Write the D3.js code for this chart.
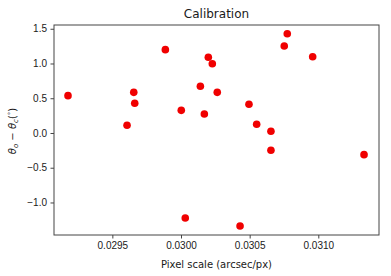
<!DOCTYPE html>
<html>
<head>
<meta charset="utf-8">
<script src="https://cdn.jsdelivr.net/npm/d3@7"></script>
<style>
  body { margin: 0; background: #fff; }
  svg { font-family: "DejaVu Sans", sans-serif; }
  .axis text { font-size: 10px; fill: #1a1a1a; }
  .axis path, .axis line { stroke: #444; }
</style>
</head>
<body>
<div id="chart-area"></div>
<script>
// pixel scale (arcsec/px) and calibration offset (deg)
let pixelScale = [0.029177, 0.029607, 0.029656, 0.029663, 0.029886, 0.030002, 0.030141,
	0.030170, 0.030199, 0.030228, 0.030264, 0.030495, 0.030551, 0.030655, 0.030752,
	0.030774, 0.030959, 0.030655, 0.031333, 0.030031, 0.030430];
let offset = [0.537, 0.111, 0.585, 0.427, 1.199, 0.326, 0.672,
	0.273, 1.089, 0.997, 0.585, 0.413, 0.125, 0.024, 1.252,
	1.429, 1.098, -0.249, -0.312, -1.223, -1.338];

let xTicks = [0.0295, 0.0300, 0.0305, 0.0310];
let yTicks = [-1.0, -0.5, 0.0, 0.5, 1.0, 1.5];

let data = pixelScale.map((d, i) => ({x: d, y: offset[i]}));

let margin = {top: 25, right: 12, bottom: 41, left: 54};
let width = 391 - margin.left - margin.right;
let height = 276 - margin.top - margin.bottom;

let svg = d3.select("#chart-area").append("svg")
		.attr("width", 391)
		.attr("height", 276)
	.append("g")
		.attr("transform", "translate(" + margin.left + "," + margin.top + ")");

let x = d3.scaleLinear()
	.domain([0.029075, 0.031442])
	.range([0, width]);

let y = d3.scaleLinear()
	.domain([-1.468, 1.554])
	.range([height, 0]);

let fmt = d => d3.format(".1f")(d).replace("-", "\u2212");

let xAxis = d3.axisBottom(x)
	.tickValues(xTicks)
	.tickFormat(d3.format(".4f"))
	.tickSize(3.5)
	.tickPadding(3.5)
	.tickSizeOuter(0);

let yAxis = d3.axisLeft(y)
	.tickValues(yTicks)
	.tickFormat(fmt)
	.tickSize(3.5)
	.tickPadding(3.5)
	.tickSizeOuter(0);

svg.append("g")
	.attr("class", "axis x-axis")
	.attr("transform", "translate(0," + height + ")")
	.call(xAxis)
	.call(g => g.select(".domain").remove());

svg.append("g")
	.attr("class", "axis y-axis")
	.call(yAxis)
	.call(g => g.select(".domain").remove());

// frame
svg.append("rect")
	.attr("x", 0)
	.attr("y", 0)
	.attr("width", width)
	.attr("height", height)
	.attr("fill", "none")
	.attr("stroke", "#444")
	.attr("stroke-width", 1);

svg.selectAll(".dot")
	.data(data)
	.enter()
	.append("circle")
	.attr("class", "dot")
	.attr("cx", d => x(d.x))
	.attr("cy", d => y(d.y))
	.attr("r", 3.8)
	.attr("fill", "#f00000");

// title
svg.append("text")
	.attr("x", width / 2)
	.attr("y", -7)
	.attr("text-anchor", "middle")
	.attr("font-size", "12px")
	.attr("fill", "#1a1a1a")
	.text("Calibration");

// x label
svg.append("text")
	.attr("x", width / 2)
	.attr("y", height + 33)
	.attr("text-anchor", "middle")
	.attr("font-size", "10px")
	.attr("fill", "#1a1a1a")
	.text("Pixel scale (arcsec/px)");

// y label
let yl = svg.append("text")
	.attr("transform", "translate(" + (-38) + "," + (height / 2 + 1) + ") rotate(-90)")
	.attr("text-anchor", "middle")
	.attr("font-size", "10px")
	.attr("fill", "#1a1a1a");
yl.append("tspan").attr("font-style", "italic").text("θ");
yl.append("tspan").attr("font-size", "7px").attr("dy", 2).attr("font-style", "italic").text("o");
yl.append("tspan").attr("dy", -2).text(" \u2212 ");
yl.append("tspan").attr("font-style", "italic").text("θ");
yl.append("tspan").attr("font-size", "7px").attr("dy", 2).attr("font-style", "italic").text("c");
yl.append("tspan").attr("dy", -2).text("(");
yl.append("tspan").attr("font-size", "7px").attr("dy", -3).text("°");
yl.append("tspan").attr("dy", 3).text(")");
</script>
</body>
</html>
